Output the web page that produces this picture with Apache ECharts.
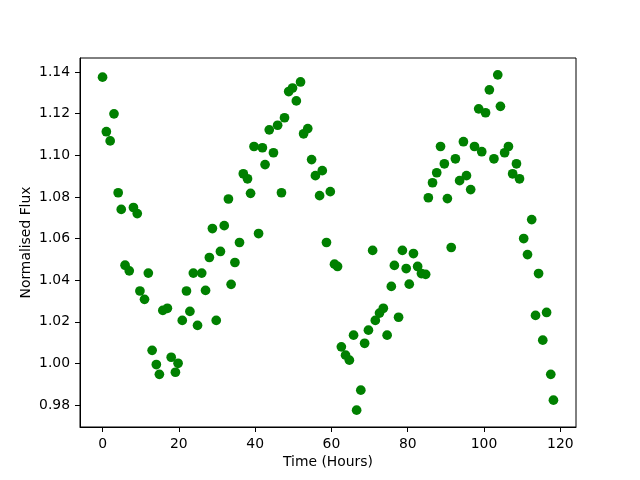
<!DOCTYPE html>
<html>
<head>
<meta charset="utf-8">
<script src="https://cdn.jsdelivr.net/npm/echarts@6/dist/echarts.min.js"></script>
<style>html,body{margin:0;padding:0;background:#fff;}#c{width:640px;height:480px;}</style>
</head>
<body>
<div id="c"></div>
<script>
const timeHours = [0,1.0,2.0,3.0,4.1,4.9,5.9,7.0,8.1,9.1,9.8,11.0,12.0,13.0,14.1,14.9,15.8,17.0,18.0,19.1,19.8,20.9,22.0,22.9,23.8,24.9,26.0,27.0,28.0,28.8,29.8,30.9,31.9,33.0,33.7,34.7,35.9,36.9,38.0,38.8,39.7,40.9,41.9,42.6,43.7,44.8,45.9,46.9,47.7,48.8,49.8,50.8,51.9,52.7,53.8,54.8,55.8,56.9,57.6,58.7,59.7,60.8,61.6,62.6,63.7,64.7,65.8,66.6,67.7,68.7,69.7,70.8,71.5,72.6,73.6,74.6,75.7,76.5,77.6,78.6,79.6,80.4,81.5,82.6,83.6,84.7,85.4,86.5,87.6,88.6,89.6,90.4,91.4,92.5,93.6,94.6,95.4,96.5,97.5,98.6,99.4,100.4,101.4,102.6,103.6,104.3,105.4,106.4,107.5,108.5,109.3,110.4,111.4,112.5,113.5,114.3,115.4,116.4,117.5,118.2];
const normalisedFlux = [1.1375,1.1113,1.1069,1.1199,1.0820,1.0740,1.0472,1.0445,1.0749,1.0720,1.0348,1.0308,1.0434,1.0063,0.9995,0.9948,1.0255,1.0265,1.0030,0.9958,1.0001,1.0207,1.0348,1.0250,1.0434,1.0183,1.0434,1.0351,1.0509,1.0648,1.0207,1.0538,1.0662,1.0790,1.0380,1.0485,1.0581,1.0911,1.0887,1.0817,1.1042,1.0624,1.1036,1.0955,1.1122,1.1012,1.1144,1.0820,1.1180,1.1306,1.1323,1.1261,1.1352,1.1103,1.1128,1.0979,1.0902,1.0806,1.0926,1.0581,1.0825,1.0477,1.0466,1.0080,1.0040,1.0016,1.0136,0.9776,0.9872,1.0097,1.0160,1.0543,1.0207,1.0242,1.0265,1.0136,1.0370,1.0471,1.0222,1.0543,1.0456,1.0381,1.0528,1.0466,1.0432,1.0428,1.0796,1.0868,1.0916,1.1042,1.0959,1.0792,1.0557,1.0983,1.0878,1.1065,1.0902,1.0835,1.1042,1.1223,1.1017,1.1204,1.1314,1.0983,1.1386,1.1235,1.1012,1.1042,1.0911,1.0959,1.0887,1.0600,1.0523,1.0691,1.0231,1.0432,1.0112,1.0245,0.9948,0.9824];
const xTicks = [0,20,40,60,80,100,120];
const yTicks = [0.98,1.00,1.02,1.04,1.06,1.08,1.10,1.12,1.14];
const xLabel = 'Time (Hours)';
const yLabel = 'Normalised Flux';

const points = timeHours.map((t, i) => [t, normalisedFlux[i]]);
const font = 'DejaVu Sans';
const chart = echarts.init(document.getElementById('c'), null, {renderer: 'canvas'});
chart.setOption({
  animation: false,
  backgroundColor: '#fff',
  grid: {left: 80, right: 64, top: 58, bottom: 53, show: true, borderColor: '#000', borderWidth: 1, backgroundColor: 'transparent'},
  xAxis: {
    type: 'value', min: -5.91, max: 124.11,
    name: xLabel, nameLocation: 'middle', nameGap: 28, nameMoveOverlap: false,
    nameTextStyle: {fontFamily: font, fontSize: 13.9, color: '#000'},
    axisLine: {show: true, onZero: false, lineStyle: {color: '#000', width: 1}},
    axisTick: {show: true, inside: false, length: 5, lineStyle: {color: '#000', width: 1}, customValues: xTicks},
    axisLabel: {show: true, margin: 10, fontFamily: font, fontSize: 13.9, color: '#000', customValues: xTicks, formatter: v => String(Math.round(v))},
    splitLine: {show: false}
  },
  yAxis: {
    type: 'value', min: 0.9695, max: 1.1467,
    name: yLabel, nameLocation: 'middle', nameGap: 47, nameMoveOverlap: false,
    nameTextStyle: {fontFamily: font, fontSize: 13.9, color: '#000'},
    axisLine: {show: true, onZero: false, lineStyle: {color: '#000', width: 1}},
    axisTick: {show: true, inside: false, length: 5, lineStyle: {color: '#000', width: 1}, customValues: yTicks},
    axisLabel: {show: true, margin: 10, fontFamily: font, fontSize: 13.9, color: '#000', customValues: yTicks, formatter: v => v.toFixed(2)},
    splitLine: {show: false}
  },
  series: [{
    type: 'scatter',
    data: points,
    symbol: 'circle',
    symbolSize: 9.7,
    itemStyle: {color: '#008000', opacity: 1},
    emphasis: {disabled: true}
  }]
});
</script>
</body>
</html>
